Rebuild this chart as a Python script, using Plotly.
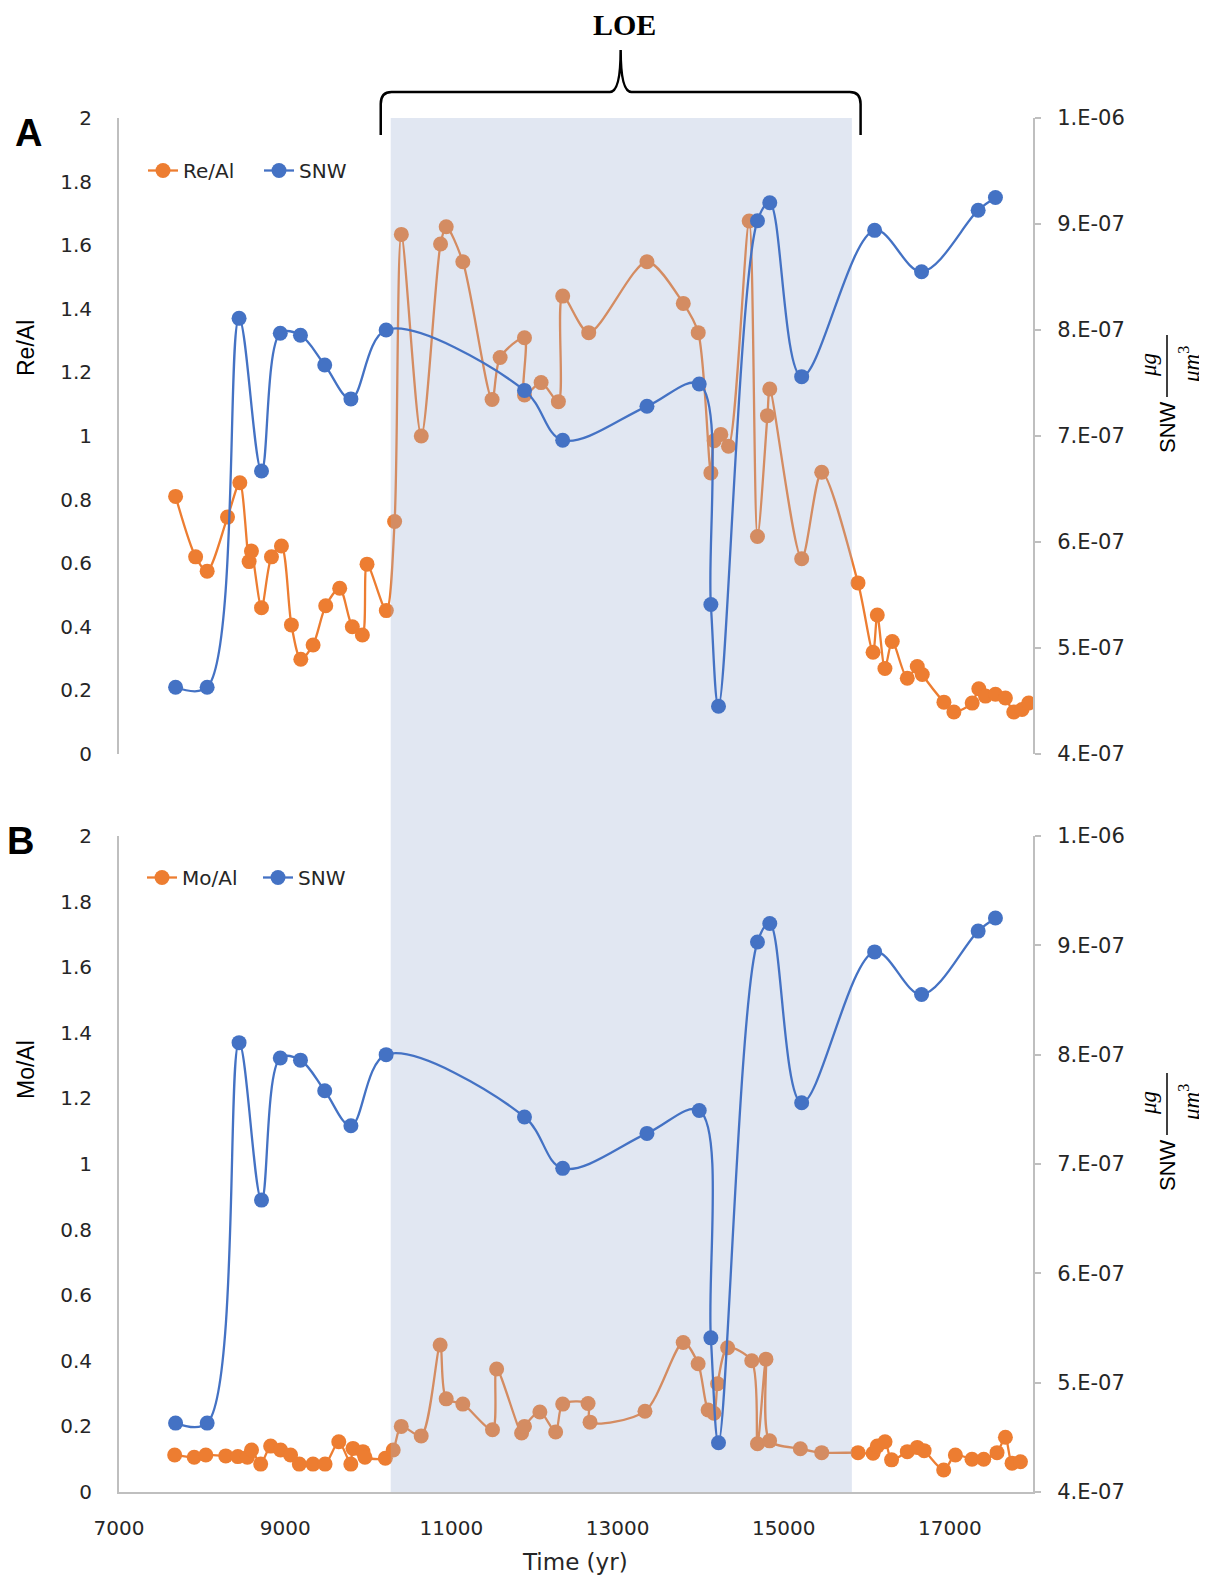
import plotly.graph_objects as go

W, H = 1207, 1583

# ---------------- data ----------------
re_time = [7681, 7922, 8061, 8306, 8454, 8566, 8594, 8715, 8835, 8955,
           9075, 9188, 9336, 9488, 9656, 9808, 9929, 9985, 10217, 10317,
           10398, 10638, 10870, 10938, 11138, 11490, 11587, 11880, 11880, 12080,
           12288, 12340, 12653, 13354, 13791, 13971, 14123, 14163, 14243, 14335,
           14584, 14684, 14804, 14832, 15216, 15457, 15894, 16075, 16126, 16218,
           16306, 16487, 16607, 16667, 16928, 17048, 17268, 17348, 17428, 17548,
           17668, 17768, 17868, 17948]
re_al = [0.81, 0.62, 0.575, 0.745, 0.853, 0.605, 0.638, 0.46, 0.62, 0.654,
         0.406, 0.298, 0.343, 0.466, 0.521, 0.40, 0.374, 0.597, 0.451, 0.731,
         1.634, 1.0, 1.604, 1.658, 1.548, 1.115, 1.247, 1.309, 1.129, 1.168,
         1.108, 1.44, 1.325, 1.548, 1.417, 1.325, 0.884, 0.985, 1.005, 0.968,
         1.676, 0.684, 1.064, 1.148, 0.614, 0.886, 0.538, 0.32, 0.437, 0.269,
         0.354, 0.238, 0.275, 0.25, 0.163, 0.132, 0.16, 0.205, 0.182, 0.188,
         0.176, 0.132, 0.14, 0.16]

mo_time = [7670, 7905, 8045, 8285, 8430, 8545, 8595, 8705, 8825, 8945,
           9065, 9170, 9335, 9480, 9645, 9790, 9816, 9936, 9960, 10205,
           10300, 10397, 10637, 10865, 10938, 11138, 11495, 11545, 11845, 11880,
           12065, 12255, 12340, 12645, 12669, 13330, 13790, 13970, 14090, 14160,
           14204, 14325, 14615, 14684, 14786, 14830, 15200, 15457, 15894, 16075,
           16126, 16219, 16298, 16487, 16607, 16690, 16925, 17066, 17266, 17407,
           17567, 17668, 17748, 17849]
mo_al = [0.113, 0.106, 0.113, 0.110, 0.108, 0.106, 0.128, 0.085, 0.140, 0.128,
         0.113, 0.085, 0.085, 0.085, 0.153, 0.085, 0.133, 0.123, 0.106, 0.103,
         0.128, 0.200, 0.171, 0.448, 0.284, 0.268, 0.190, 0.375, 0.180, 0.200,
         0.244, 0.183, 0.268, 0.270, 0.213, 0.246, 0.456, 0.391, 0.25, 0.24,
         0.33, 0.44, 0.40, 0.147, 0.405, 0.156, 0.132, 0.120, 0.120, 0.118,
         0.140, 0.153, 0.098, 0.123, 0.136, 0.126, 0.067, 0.113, 0.100, 0.100,
         0.120, 0.167, 0.088, 0.092]

snw_time = [7681, 8061, 8445, 8715, 8941, 9184, 9476, 9791, 10215, 11880,
            12340, 13354, 13983, 14123, 14215, 14684, 14832, 15216, 16094, 16659,
            17340, 17548]
snw = [4.63e-7, 4.63e-7, 8.11e-7, 6.67e-7, 7.97e-7, 7.95e-7, 7.67e-7, 7.35e-7, 8.0e-7, 7.43e-7,
       6.96e-7, 7.28e-7, 7.49e-7, 5.41e-7, 4.45e-7, 9.03e-7, 9.20e-7, 7.56e-7, 8.94e-7, 8.55e-7,
       9.13e-7, 9.25e-7]

loe_start, loe_end = 10270, 15820

x_ticks = [7000, 9000, 11000, 13000, 15000, 17000]
x_ticktext = ["7000", "9000", "11000", "13000", "15000", "17000"]
snw_ticks = [4e-7, 5e-7, 6e-7, 7e-7, 8e-7, 9e-7, 1e-6]
snw_ticktext = ["4.E-07", "5.E-07", "6.E-07", "7.E-07", "8.E-07", "9.E-07", "1.E-06"]

# ---------------- style ----------------
ORANGE = "#ED7D31"
BLUE = "#4472C4"
AXIS = "#BFBFBF"
TXT = "#262626"
BAND_SOLID = "#E1E7F2"
BAND_ALPHA = "rgba(155,175,212,0.3)"
TICKFONT = dict(family="DejaVu Sans", size=20, color=TXT)
RTICKFONT = dict(family="DejaVu Sans", size=21, color=TXT)

OFF = 8  # page body margin of the rendered html


def px(x):
    return (x - OFF) / W


def py(y):
    return 1 - (y - OFF) / H


X0, X1 = 119, 1033
A_TOP, A_BOT = 118, 754
B_TOP, B_BOT = 836, 1492

fig = go.Figure()

panels = [
    dict(x="x", y="y", y2="y2", label="Re/Al", vals=re_al, t=re_time, legend="legend"),
    dict(x="x2", y="y3", y2="y4", label="Mo/Al", vals=mo_al, t=mo_time, legend="legend2"),
]

for p in panels:
    fig.add_trace(go.Scatter(
        x=p["t"], y=p["vals"], xaxis=p["x"], yaxis=p["y"], name=p["label"],
        mode="lines+markers", line=dict(color=ORANGE, width=2.3, shape="spline", smoothing=0.8),
        marker=dict(color=ORANGE, size=15), legend=p["legend"], hoverinfo="skip"))
    # translucent LOE band drawn over the ratio series (as in the reference)
    fig.add_trace(go.Scatter(
        x=[loe_start, loe_end, loe_end, loe_start], y=[0, 0, 2, 2],
        xaxis=p["x"], yaxis=p["y"], mode="none", fill="toself",
        fillcolor=BAND_ALPHA, showlegend=False, hoverinfo="skip"))
    fig.add_trace(go.Scatter(
        x=snw_time, y=snw, xaxis=p["x"], yaxis=p["y2"], name="SNW",
        mode="lines+markers", line=dict(color=BLUE, width=2.3, shape="spline", smoothing=1.0),
        marker=dict(color=BLUE, size=15), legend=p["legend"], hoverinfo="skip"))

common_x = dict(domain=[px(X0), px(X1)], range=[7000, 18000], showgrid=False, zeroline=False,
                automargin=False)
left_y = dict(range=[0, 2], tick0=0, dtick=0.2, showgrid=False, zeroline=False,
              showline=True, linecolor=AXIS, linewidth=2, ticks="", automargin=False,
              tickfont=TICKFONT, ticklabelstandoff=21)
right_y = dict(range=[4e-7, 1e-6], tickvals=snw_ticks, ticktext=snw_ticktext, side="right",
               showgrid=False, zeroline=False, showline=True, linecolor=AXIS, linewidth=2,
               ticks="outside", ticklen=6, tickcolor=AXIS, tickwidth=2, automargin=False,
               tickfont=RTICKFONT, ticklabelstandoff=12)
LEGFONT = dict(family="DejaVu Sans", size=20, color=TXT)

fig.update_layout(
    width=W, height=H,
    margin=dict(l=0, r=0, t=0, b=0, pad=0, autoexpand=False),
    paper_bgcolor="white", plot_bgcolor="rgba(0,0,0,0)",
    xaxis=dict(**common_x, anchor="y", showticklabels=False, showline=False),
    yaxis=dict(**left_y, domain=[py(A_BOT), py(A_TOP)], anchor="x"),
    yaxis2=dict(**right_y, overlaying="y", anchor="x"),
    xaxis2=dict(**common_x, anchor="y3", tickvals=x_ticks, ticktext=x_ticktext, showline=True,
                linecolor=AXIS, linewidth=2, ticks="", tickfont=TICKFONT, ticklabelstandoff=17),
    yaxis3=dict(**left_y, domain=[py(B_BOT), py(B_TOP)], anchor="x2"),
    yaxis4=dict(**right_y, overlaying="y3", anchor="x2"),
    legend=dict(orientation="h", x=px(143), y=py(151), xanchor="left", yanchor="top",
                entrywidth=71, bgcolor="rgba(0,0,0,0)", font=LEGFONT),
    legend2=dict(orientation="h", x=px(142), y=py(858), xanchor="left", yanchor="top",
                 entrywidth=71, bgcolor="rgba(0,0,0,0)", font=LEGFONT),
    showlegend=True,
)

# solid band in the gap between the two panels
fig.add_shape(type="rect", xref="x", yref="paper", x0=loe_start, x1=loe_end,
              y0=py(A_BOT), y1=py(B_TOP), fillcolor=BAND_SOLID, line=dict(width=0), layer="below")

# curly brace above the LOE band
bx0, bx1 = loe_start - 120, loe_end + 105
bm = (bx0 + bx1) / 2
rx = 130
yb, ym, yt, ytip = py(135), py(104), py(92), py(50)
brace = (f"M {bx0},{yb} L {bx0},{ym} Q {bx0},{yt} {bx0 + rx},{yt} L {bm - rx},{yt} "
         f"Q {bm},{yt} {bm},{ytip} Q {bm},{yt} {bm + rx},{yt} L {bx1 - rx},{yt} "
         f"Q {bx1},{yt} {bx1},{ym} L {bx1},{yb}")
fig.add_shape(type="path", xref="x", yref="paper", path=brace,
              line=dict(color="black", width=2.5))

ann = []
ann.append(dict(text="<b>LOE</b>", x=px(624), y=py(24), font=dict(family="Liberation Serif", size=30, color="black")))
ann.append(dict(text="<b>A</b>", x=px(28), y=py(133), font=dict(family="Liberation Sans", size=38, color="black")))
ann.append(dict(text="<b>B</b>", x=px(20), y=py(841), font=dict(family="Liberation Sans", size=38, color="black")))
ann.append(dict(text="Re/Al", x=px(26), y=py(348), textangle=-90, font=dict(family="Liberation Sans", size=23, color="black")))
ann.append(dict(text="Mo/Al", x=px(26), y=py(1070), textangle=-90, font=dict(family="Liberation Sans", size=23, color="black")))
ann.append(dict(text="Time (yr)", x=px(575), y=py(1562), font=dict(family="DejaVu Sans", size=23, color=TXT)))
for yc in (427, 1165):
    ann.append(dict(text="SNW", x=px(1167), y=py(yc), textangle=-90,
                    font=dict(family="Liberation Sans", size=22, color="black")))
    ann.append(dict(text="<i>μg</i>", x=px(1148), y=py(yc - 62), textangle=-90,
                    font=dict(family="Liberation Serif", size=23, color="black")))
    ann.append(dict(text="<i>μm</i><sup>3</sup>", x=px(1189), y=py(yc - 62), textangle=-90,
                    font=dict(family="Liberation Serif", size=23, color="black")))
    fig.add_shape(type="line", xref="paper", yref="paper", x0=px(1167), x1=px(1167),
                  y0=py(yc - 92), y1=py(yc - 30), line=dict(color="black", width=1.5))

for a in ann:
    a.update(xref="paper", yref="paper", showarrow=False, xanchor="center", yanchor="middle")
    fig.add_annotation(**a)

fig.write_html("out.html")
